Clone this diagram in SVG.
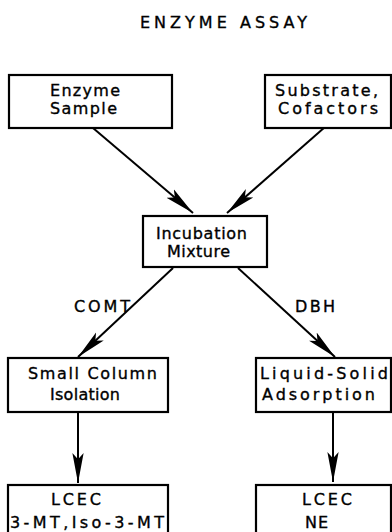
<svg xmlns="http://www.w3.org/2000/svg" width="392" height="532" viewBox="0 0 392 532">
<style>
text{font-family:"DejaVu Sans","Liberation Sans",sans-serif;font-size:16px;fill:#000;stroke:#000;stroke-width:0.35;}
.box{fill:#fff;stroke:#000;stroke-width:2.2;}
.ln{stroke:#000;stroke-width:2;fill:none;marker-end:url(#ah);}
</style>
<defs>
<marker id="ah" markerUnits="userSpaceOnUse" markerWidth="30" markerHeight="14" refX="24" refY="5" orient="auto" viewBox="0 0 24 10">
<path d="M0,0.5 L24,5 L0,9.5 L5,5 Z" fill="#000"/>
</marker>
</defs>
<rect width="392" height="532" fill="#fff"/>
<text id="title" x="140" y="28" textLength="167" lengthAdjust="spacing">ENZYME ASSAY</text>
<g id="connectors">
<line class="ln" x1="93" y1="128" x2="193" y2="213"/>
<line class="ln" x1="325" y1="127" x2="227" y2="213"/>
<line class="ln" x1="173" y1="268" x2="78" y2="357"/>
<line class="ln" x1="238" y1="268" x2="335" y2="357"/>
<line class="ln" x1="78" y1="412" x2="78" y2="483"/>
<line class="ln" x1="333" y1="412" x2="333" y2="482"/>
<text x="74" y="312" textLength="56" lengthAdjust="spacing">COMT</text>
<text x="295" y="312" textLength="40" lengthAdjust="spacing">DBH</text>
</g>
<g id="enzyme">
<rect class="box" x="9" y="75" width="163" height="53"/>
<text x="50" y="96" textLength="70" lengthAdjust="spacing">Enzyme</text>
<text x="50" y="114" textLength="67" lengthAdjust="spacing">Sample</text>
</g>
<g id="substrate">
<rect class="box" x="265" y="75" width="126" height="53"/>
<text x="275" y="96" textLength="103" lengthAdjust="spacing">Substrate,</text>
<text x="278" y="114" textLength="100" lengthAdjust="spacing">Cofactors</text>
</g>
<g id="incubation">
<rect class="box" x="143" y="216" width="124" height="51"/>
<text x="156" y="239" textLength="91" lengthAdjust="spacing">Incubation</text>
<text x="167" y="257" textLength="63" lengthAdjust="spacing">Mixture</text>
</g>
<g id="smallcolumn">
<rect class="box" x="8" y="358" width="160" height="54"/>
<text x="28" y="379" textLength="129" lengthAdjust="spacing">Small Column</text>
<text x="50" y="400" textLength="70" lengthAdjust="spacing">Isolation</text>
</g>
<g id="liquidsolid">
<rect class="box" x="256" y="358" width="135" height="54"/>
<text x="260" y="379" textLength="128" lengthAdjust="spacing">Liquid-Solid</text>
<text x="262" y="400" textLength="113" lengthAdjust="spacing">Adsorption</text>
</g>
<g id="lcec1">
<rect class="box" x="8" y="485" width="160" height="52"/>
<text x="51" y="505" textLength="50" lengthAdjust="spacing">LCEC</text>
<text x="10" y="528" textLength="154" lengthAdjust="spacing">3-MT,Iso-3-MT</text>
</g>
<g id="lcec2">
<rect class="box" x="256" y="485" width="135" height="52"/>
<text x="302" y="505" textLength="50" lengthAdjust="spacing">LCEC</text>
<text x="305" y="528" textLength="23" lengthAdjust="spacing">NE</text>
</g>
</svg>
